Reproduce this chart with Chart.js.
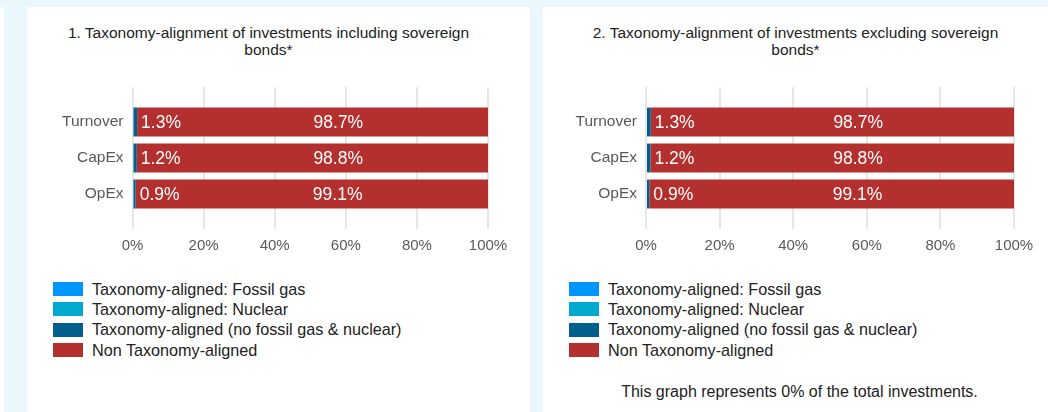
<!DOCTYPE html>
<html>
<head>
<meta charset="utf-8">
<script src="https://cdn.jsdelivr.net/npm/chart.js@4"></script>
<style>
    body {
        margin: 0;
        width: 1048px;
        height: 412px;
        background: #eaf7fc;
        position: relative;
        overflow: hidden;
        font-family: "Liberation Sans", Arial, sans-serif;
    }
    .edge { position: absolute; left: 0; top: 7px; width: 4px; height: 405px; background: #fff; }
    .panel { position: absolute; top: 7px; height: 405px; background: #fff; }
    .panel canvas { position: absolute; left: 0; top: 0; }
    .title { position: absolute; left: 0; top: 17px; text-align: center; font-size: 15.5px; line-height: 17px; color: #222; }
    .legend { position: absolute; top: 272px; color: #222; font-size: 16.2px; }
    .legend-row { height: 20.3px; display: flex; align-items: center; white-space: nowrap; }
    .legend-box { width: 30px; height: 14px; margin-right: 9px; flex: none; }
    .note { position: absolute; left: 0; width: 513px; top: 376px; text-align: center; font-size: 16px; color: #222; }
</style>
</head>
<body>
<div class="edge"></div>
<div class="panel" id="panel1" style="left:27px;width:503px;">
    <div class="title" style="width:483px;">1. Taxonomy-alignment of investments including sovereign<br>bonds*</div>
    <canvas id="chart1" width="491" height="256"></canvas>
    <div class="legend" id="legend1" style="left:26px;"></div>
</div>
<div class="panel" id="panel2" style="left:543px;width:505px;">
    <div class="title" style="width:505px;">2. Taxonomy-alignment of investments excluding sovereign<br>bonds*</div>
    <canvas id="chart2" width="505" height="256"></canvas>
    <div class="legend" id="legend2" style="left:26px;"></div>
    <div class="note">This graph represents 0% of the total investments.</div>
</div>
<script>
// categories and series (percent of investments)
const categories = ["Turnover", "CapEx", "OpEx"];
const seriesNames = [
    "Taxonomy-aligned: Fossil gas",
    "Taxonomy-aligned: Nuclear",
    "Taxonomy-aligned (no fossil gas & nuclear)",
    "Non Taxonomy-aligned",
];
const seriesColors = ["#0096ff", "#00a9cd", "#005f8f", "#b3302e"];

// chart 1: including sovereign bonds
const incFossilGas = [0, 0, 0];
const incNuclear = [0, 0, 0];
const incAligned = [1.3, 1.2, 0.9];
const incNonAligned = [98.7, 98.8, 99.1];

// chart 2: excluding sovereign bonds
const excFossilGas = [0, 0, 0];
const excNuclear = [0, 0, 0];
const excAligned = [1.3, 1.2, 0.9];
const excNonAligned = [98.7, 98.8, 99.1];

const xTicks = [0, 20, 40, 60, 80, 100];

const gridColor = "#e6e6e6";
const tickColor = "#595959";
const fontFamily = '"Liberation Sans", Arial, sans-serif';

// white value labels inside the bars
const barLabels = {
    id: "barLabels",
    afterDatasetsDraw(chart) {
        const ctx = chart.ctx;
        ctx.save();
        ctx.fillStyle = "#fff";
        ctx.font = "17.5px " + fontFamily;
        ctx.textBaseline = "middle";
        ctx.textAlign = "left";
        chart.data.datasets.forEach((ds, di) => {
            const meta = chart.getDatasetMeta(di);
            meta.data.forEach((bar, i) => {
                const v = ds.data[i];
                if (!v) return;
                const text = v.toFixed(1) + "%";
                if (v < 10) {
                    // small segment: label just right of it
                    ctx.fillText(text, bar.x + 4, bar.y + 1);
                } else {
                    // big segment: label starts at the segment middle
                    ctx.fillText(text, (bar.x + bar.base) / 2 + 1, bar.y + 1);
                }
            });
        });
        ctx.restore();
    },
};

function makeChart(id, series, axisWidth, padRight) {
    const ctx = document.getElementById(id).getContext("2d");
    return new Chart(ctx, {
        type: "bar",
        data: {
            labels: categories,
            datasets: series.map((data, i) => ({
                label: seriesNames[i],
                data,
                backgroundColor: seriesColors[i],
                barPercentage: 0.8,
                categoryPercentage: 1,
            })),
        },
        options: {
            indexAxis: "y",
            responsive: false,
            animation: false,
            layout: { padding: { left: 0, right: padRight, top: 80, bottom: 0 } },
            plugins: {
                legend: { display: false },
                tooltip: { enabled: false },
            },
            scales: {
                x: {
                    stacked: true,
                    min: 0,
                    max: 100,
                    afterBuildTicks: (scale) => {
                        scale.ticks = xTicks.map((value) => ({ value }));
                    },
                    grid: { color: gridColor, lineWidth: 2, tickLength: 17, drawTicks: true },
                    border: { display: false },
                    ticks: {
                        padding: 8,
                        color: tickColor,
                        font: { size: 15, family: fontFamily },
                        callback: (v) => v + "%",
                    },
                },
                xTop: {
                    type: "linear",
                    position: "top",
                    axis: "x",
                    min: 0,
                    max: 100,
                    afterBuildTicks: (scale) => {
                        scale.ticks = xTicks.map((value) => ({ value }));
                    },
                    grid: { color: gridColor, lineWidth: 2, tickLength: 17, drawTicks: true, drawOnChartArea: false },
                    border: { display: false },
                    ticks: { display: false },
                },
                y: {
                    stacked: true,
                    afterFit: (scale) => {
                        scale.width = axisWidth;
                    },
                    grid: { display: false, drawTicks: false },
                    border: { display: false },
                    ticks: {
                        padding: 9,
                        color: tickColor,
                        font: { size: 15.5, family: fontFamily },
                    },
                },
            },
        },
        plugins: [barLabels],
    });
}

const chart1 = makeChart("chart1", [incFossilGas, incNuclear, incAligned, incNonAligned], 105.5, 30);
const chart2 = makeChart("chart2", [excFossilGas, excNuclear, excAligned, excNonAligned], 103, 34);

// html legend built from the chart datasets
function buildLegend(chart, elId) {
    const el = document.getElementById(elId);
    chart.data.datasets.forEach((ds) => {
        const row = document.createElement("div");
        row.className = "legend-row";
        const box = document.createElement("span");
        box.className = "legend-box";
        box.style.background = ds.backgroundColor;
        const txt = document.createElement("span");
        txt.textContent = ds.label;
        row.appendChild(box);
        row.appendChild(txt);
        el.appendChild(row);
    });
}
buildLegend(chart1, "legend1");
buildLegend(chart2, "legend2");
</script>
</body>
</html>
